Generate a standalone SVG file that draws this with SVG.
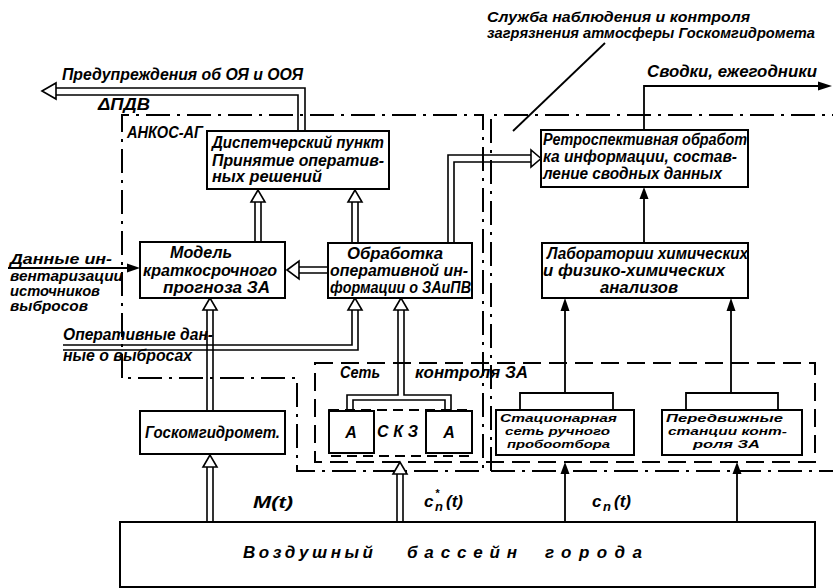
<svg xmlns="http://www.w3.org/2000/svg" width="833" height="588" viewBox="0 0 833 588">
<style>
.box{fill:#fff;stroke:#000;stroke-width:2}
.t{font-family:"Liberation Sans",Arial,sans-serif;font-style:italic;font-weight:bold;font-size:16px;fill:#000}
.m{font-size:14px}
.s{font-size:11.5px}
.b{font-size:17px}
.dl{fill:none;stroke:#000;stroke-width:1.6}
.ln{fill:none;stroke:#000;stroke-width:1.8}
.ha{fill:#fff;stroke:#000;stroke-width:1.6;stroke-linejoin:miter}
.fa{fill:#000;stroke:none}
.dd{fill:none;stroke:#000;stroke-width:2;stroke-dasharray:24 7 3 7}
.ds{fill:none;stroke:#000;stroke-width:2;stroke-dasharray:18 8}
.ds2{fill:none;stroke:#000;stroke-width:1.8;stroke-dasharray:10 6}
</style>
<rect x="0" y="0" width="833" height="588" fill="#fff"/>

<g id="regions">
  <path class="dd" d="M122,378 V115 H483 V471 H297 V378 Z"/>
  <path class="dd" d="M491,471 V115 H833 M491,471 H833"/>
  <rect class="ds" x="315" y="363" width="500" height="99"/>
  <text class="t" x="127" y="138" textLength="76" lengthAdjust="spacingAndGlyphs">АНКОС-АГ</text>
  <text class="t" x="340" y="378" textLength="40" lengthAdjust="spacingAndGlyphs">Сеть</text>
  <text class="t" x="415" y="378" textLength="113" lengthAdjust="spacingAndGlyphs">контроля ЗА</text>
  <text class="t m" x="487" y="22" textLength="263" lengthAdjust="spacingAndGlyphs">Служба наблюдения и контроля</text>
  <text class="t m" x="487" y="38" textLength="328" lengthAdjust="spacingAndGlyphs">загрязнения атмосферы Госкомгидромета</text>
</g>

<g id="connectors">
  <path class="ln" d="M605,43 L513,131" stroke-width="1.4"/>
  <path class="dl" d="M305,131 V88 H56 M298,131 V95 H56"/>
  <polygon class="ha" points="42,91 56,83 56,99"/>
  <path class="dl" d="M255,242 V202 M261,242 V202"/>
  <polygon class="ha" points="258,190 251,202 265,202"/>
  <path class="dl" d="M352,243 V202 M358,243 V202"/>
  <polygon class="ha" points="355,190 348,202 362,202"/>
  <path class="dl" d="M328,267 H299 M328,273 H299"/>
  <polygon class="ha" points="287,270 299,261 299,279"/>
  <path class="dl" d="M63,345 H352 V310 M63,350 H358 V310"/>
  <polygon class="ha" points="355,298 348,310 362,310"/>
  <path class="dl" d="M347,411 V395 H398 V310 M404,310 V395 H451 V411 M353,411 V400 H445 V411"/>
  <polygon class="ha" points="401,298 394,310 408,310"/>
  <path class="dl" d="M397,522 V474 M403,522 V474"/>
  <polygon class="ha" points="400,462 393,474 407,474"/>
  <path class="dl" d="M207,522 V467 M213,522 V467"/>
  <polygon class="ha" points="210,455 203,467 217,467"/>
  <path class="dl" d="M207,411 V310 M213,411 V310"/>
  <polygon class="ha" points="210,298 203,310 217,310"/>
  <path class="dl" d="M448,243 V155 H531 M454,243 V162 H531"/>
  <polygon class="ha" points="541,158.5 531,150 531,167"/>
  <path class="ln" d="M644,130 V86 H820"/>
  <polygon class="fa" points="832,86 818,81.5 818,90.5"/>
  <path class="ln" d="M644,243 V197"/>
  <polygon class="fa" points="644,187 639.5,199 648.5,199"/>
  <path class="ln" d="M520,410 V393 H613 V410 M565,393 V308"/>
  <polygon class="fa" points="565,298 560.5,311 569.5,311"/>
  <path class="ln" d="M686,410 V393 H778 V410 M731,393 V308"/>
  <polygon class="fa" points="731,298 726.5,311 735.5,311"/>
  <path class="ln" d="M565,522 V472 M737,522 V472"/>
  <polygon class="fa" points="565,462 560.5,474 569.5,474"/>
  <polygon class="fa" points="737,462 732.5,474 741.5,474"/>
  <path class="ln" d="M8,268 H130"/>
  <polygon class="fa" points="140,268 127,263.5 127,272.5"/>
  <text class="t" x="62" y="80" textLength="241" lengthAdjust="spacingAndGlyphs">Предупреждения об ОЯ и ООЯ</text>
  <text class="t" x="98" y="110" textLength="52" lengthAdjust="spacingAndGlyphs">ΔПДВ</text>
  <text class="t" x="647" y="77" textLength="170" lengthAdjust="spacingAndGlyphs">Сводки, ежегодники</text>
  <text class="t m" x="10" y="264" textLength="102" lengthAdjust="spacingAndGlyphs">Данные ин-</text>
  <text class="t m" x="10" y="281" textLength="113" lengthAdjust="spacingAndGlyphs">вентаризации</text>
  <text class="t m" x="10" y="296" textLength="90" lengthAdjust="spacingAndGlyphs">источников</text>
  <text class="t m" x="10" y="311" textLength="78" lengthAdjust="spacingAndGlyphs">выбросов</text>
  <text class="t" x="63" y="340" textLength="150" lengthAdjust="spacingAndGlyphs">Оперативные дан-</text>
  <text class="t" x="63" y="361" textLength="129" lengthAdjust="spacingAndGlyphs">ные о выбросах</text>
  <text class="t b" x="253" y="508" textLength="40" lengthAdjust="spacingAndGlyphs">M(t)</text>
  <text class="t b" x="424" y="507">c<tspan x="435" y="511" style="font-size:13px">n</tspan><tspan x="446" y="507">(t)</tspan></text>
  <text class="t" x="435" y="497" style="font-size:11px">*</text>
  <text class="t b" x="592" y="507">c<tspan x="603" y="511" style="font-size:13px">n</tspan><tspan x="614" y="507">(t)</tspan></text>
</g>

<g id="n-dispatch">
  <rect class="box" x="207" y="131" width="182" height="58"/>
  <text class="t" x="212" y="148" textLength="172" lengthAdjust="spacingAndGlyphs">Диспетчерский пункт</text>
  <text class="t" x="212" y="166" textLength="172" lengthAdjust="spacingAndGlyphs">Принятие оператив-</text>
  <text class="t" x="212" y="182" textLength="110" lengthAdjust="spacingAndGlyphs">ных решений</text>
</g>
<g id="n-model">
  <rect class="box" x="140" y="242" width="145" height="56"/>
  <text class="t" x="170" y="258" textLength="62" lengthAdjust="spacingAndGlyphs">Модель</text>
  <text class="t" x="143" y="276" textLength="134" lengthAdjust="spacingAndGlyphs">краткосрочного</text>
  <text class="t" x="163" y="293" textLength="107" lengthAdjust="spacingAndGlyphs">прогноза ЗА</text>
</g>
<g id="n-processing">
  <rect class="box" x="328" y="243" width="144" height="55"/>
  <text class="t" x="347" y="259" textLength="96" lengthAdjust="spacingAndGlyphs">Обработка</text>
  <text class="t" x="330" y="276" textLength="138" lengthAdjust="spacingAndGlyphs">оперативной ин-</text>
  <text class="t" x="330" y="293" textLength="141" lengthAdjust="spacingAndGlyphs">формации о ЗАиПВ</text>
</g>
<g id="n-retro">
  <rect class="box" x="541" y="130" width="207" height="57"/>
  <text class="t" x="543" y="145" textLength="204" lengthAdjust="spacingAndGlyphs">Ретроспективная обработ</text>
  <text class="t" x="543" y="162" textLength="194" lengthAdjust="spacingAndGlyphs">ка информации, состав-</text>
  <text class="t" x="543" y="179" textLength="179" lengthAdjust="spacingAndGlyphs">ление сводных данных</text>
</g>
<g id="n-labs">
  <rect class="box" x="542" y="243" width="206" height="55"/>
  <text class="t" x="547" y="259" textLength="201" lengthAdjust="spacingAndGlyphs">Лаборатории химических</text>
  <text class="t" x="543" y="276" textLength="182" lengthAdjust="spacingAndGlyphs">и физико-химических</text>
  <text class="t" x="600" y="293" textLength="78" lengthAdjust="spacingAndGlyphs">анализов</text>
</g>
<g id="n-goskom">
  <rect class="box" x="140" y="411" width="145" height="43"/>
  <text class="t" x="145" y="438" textLength="135" lengthAdjust="spacingAndGlyphs">Госкомгидромет.</text>
</g>
<g id="n-skz">
  <rect class="ds2" x="329" y="410" width="143" height="46"/>
  <rect class="box" x="329" y="411" width="45" height="42"/>
  <rect class="box" x="426" y="411" width="46" height="42"/>
  <text class="t" x="351" y="438" text-anchor="middle">А</text>
  <text class="t" x="449" y="438" text-anchor="middle">А</text>
  <text class="t" x="377" y="437" textLength="41" lengthAdjust="spacing">С К З</text>
</g>
<g id="n-stationary">
  <rect class="box" x="496" y="410" width="138" height="45"/>
  <text class="t s" x="500" y="422" textLength="117" lengthAdjust="spacingAndGlyphs">Стационарная</text>
  <text class="t s" x="505" y="435" textLength="105" lengthAdjust="spacingAndGlyphs">сеть ручного</text>
  <text class="t s" x="507" y="448" textLength="103" lengthAdjust="spacingAndGlyphs">пробоотбора</text>
</g>
<g id="n-mobile">
  <rect class="box" x="662" y="410" width="140" height="45"/>
  <text class="t s" x="666" y="422" textLength="117" lengthAdjust="spacingAndGlyphs">Передвижные</text>
  <text class="t s" x="668" y="435" textLength="119" lengthAdjust="spacingAndGlyphs">станции конт-</text>
  <text class="t s" x="693" y="448" textLength="67" lengthAdjust="spacingAndGlyphs">роля ЗА</text>
</g>
<g id="n-air">
  <rect class="box" x="120" y="522" width="695" height="65"/>
  <text class="t b" x="243" y="558" textLength="130" lengthAdjust="spacing">Воздушный</text>
  <text class="t b" x="407" y="558" textLength="110" lengthAdjust="spacing">бассейн</text>
  <text class="t b" x="545" y="558" textLength="97" lengthAdjust="spacing">города</text>
</g>
</svg>
